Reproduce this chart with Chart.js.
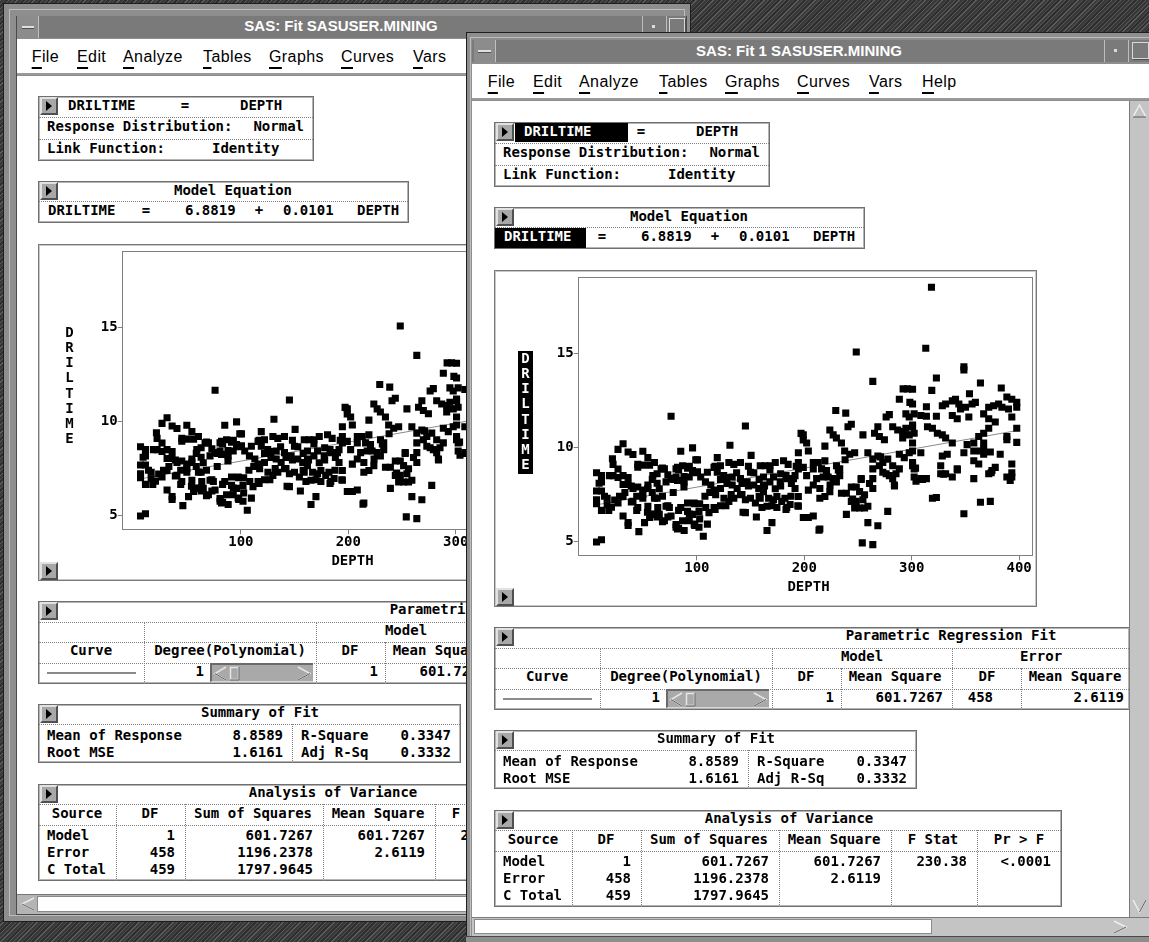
<!DOCTYPE html>
<html><head><meta charset="utf-8">
<script src="https://cdn.jsdelivr.net/npm/chart.js"></script>
<style>
html,body{margin:0;padding:0;}
body{width:1149px;height:942px;position:relative;overflow:hidden;background:#3f3f3f;
 background-image:repeating-linear-gradient(135deg,#5c5c5c 0 1px,#383838 1px 3px,#4b4b4b 3px 4px,#2f2f2f 4px 6px);}
.a{position:absolute;box-sizing:border-box;}
.t{position:absolute;height:20px;line-height:20px;white-space:pre;font:bold 14px 'DejaVu Sans Mono',monospace;color:#000;}
.menu{position:absolute;font:16px 'Liberation Sans',Arial,sans-serif;letter-spacing:0.4px;height:20px;line-height:20px;white-space:pre;color:#000;}
.menu u{text-decoration:underline;text-underline-offset:5px;text-decoration-thickness:1.5px;}
.title{position:absolute;font:bold 15px 'Liberation Sans',Arial,sans-serif;color:#fff;height:20px;line-height:20px;white-space:pre;text-align:center;}
</style></head><body>
<script>
// ---------------- data ----------------
const depthTicks = [100, 200, 300, 400];
const timeTicks = [5, 10, 15];

const depthShallow = [
 6.6, 11.2, 6.6, 11.2, 11.2, 6.6, 11.2, 6.6, 16.5, 6.6,
 11.2, 20.5, 16.5, 21.4, 22, 22, 26.6, 26.6, 31.3, 26.6,
 36, 40.5, 45, 45, 31.3, 36, 31.3, 36, 40.5, 26.6,
 31.3, 31.3, 36, 36, 40.5, 45, 46, 49.7, 54.4, 56,
 49.7, 45, 49.7, 54.4, 49.7, 54.4, 49.7, 51.3, 56, 54.4,
 60.5, 59, 63, 60.5, 63.6, 60.5, 65, 69.8, 71.3, 66.7,
 69.8, 71.3, 76, 76, 80.6, 80.6, 76, 80.6, 80.6, 74.4,
 58.5, 58.5, 63, 63, 68, 73, 73, 73, 78, 83,
 65, 68];
const timeShallow = [
 4.97, 5.09, 8.65, 8.5, 8.17, 7.68, 7.68, 7.22, 7.3, 7.0,
 6.65, 6.82, 6.95, 9.4, 9.1, 8.5, 8.4, 8.85, 10.2, 9.9,
 9.76, 9.63, 9.1, 8.95, 8.5, 8.4, 8.03, 8.03, 7.82, 7.04,
 7.39, 6.35, 6.0, 5.85, 7.13, 6.8, 5.52, 9.8, 9.46, 9.06,
 9.06, 7.9, 7.74, 7.82, 7.3, 8.0, 7.5, 6.0, 6.27, 6.87,
 9.2, 8.5, 8.6, 7.3, 6.8, 6.44, 6.44, 6.1, 6.87, 8.86,
 8.86, 8.17, 11.66, 8.34, 8.86, 8.43, 6.35, 5.75, 5.9, 6.8,
 8.3, 7.6, 8.1, 7.3, 6.05, 8.55, 6.9, 6.3, 7.6, 6.65,
 7.8, 7.4];

const depthMid = [
 145.2, 85, 96, 100.6, 119, 130.8, 150.5, 82, 86.7, 91.3,
 96, 100.6, 103.6, 116, 122, 129.8, 134.4, 140.6, 125, 132.9,
 140.6, 149.9, 159, 163.7, 168, 173, 180.7, 185, 82, 88.2,
 92.9, 108, 113, 116, 117.5, 122, 128, 132.9, 137.5, 142,
 146.8, 153, 157.6, 162, 162, 168, 171.4, 177.6, 183.7, 188,
 191.4, 125.2, 129.8, 134.4, 140.6, 145.2, 149.9, 154.5, 159, 162,
 166.8, 171.4, 174.5, 179, 182, 186.8, 160.6, 165.3, 174.5, 183.7,
 91.3, 97.5, 91.3, 96, 102, 108.3, 111.3, 116, 85, 86.7,
 92.9, 97.5, 102, 109.8, 82, 88.2, 106, 145.2, 155.4, 169.9,
 165.3, 119, 109.8];
const timeMid = [
 11.14, 9.8, 9.98, 9.34, 9.46, 10.12, 9.58, 8.94, 9.03, 8.89,
 8.77, 8.7, 8.43, 8.94, 9.03, 9.2, 9.1, 9.2, 8.5, 8.43,
 8.34, 8.68, 9.03, 9.03, 9.03, 9.2, 9.29, 9.1, 8.25, 8.17,
 8.43, 8.17, 8.0, 7.73, 7.48, 7.82, 8.08, 8.0, 7.82, 8.08,
 8.17, 8.0, 7.82, 8.0, 8.43, 8.17, 8.43, 8.17, 8.34, 8.08,
 8.5, 7.3, 7.13, 7.3, 7.48, 7.22, 7.3, 7.04, 7.3, 7.65,
 7.3, 7.22, 7.39, 7.13, 7.3, 6.96, 6.8, 6.87, 6.8, 6.8,
 7.04, 7.04, 6.6, 6.44, 6.6, 6.8, 6.53, 6.8, 6.8, 6.1,
 6.1, 5.92, 5.75, 5.92, 5.66, 5.58, 5.27, 6.53, 6.3, 6.0,
 5.58, 8.68, 8.68];

const depthDeep = [
 248.4, 263.8, 296.2, 292, 288.5, 298.3, 229.3, 238.6, 276.2, 279.2,
 294.6, 297.7, 243.8, 240.7, 223.8, 226.9, 229.9, 254.6, 265.4, 268.5,
 269.9, 274.6, 282.3, 287, 291.6, 294.6, 300.8, 291.6, 297.7, 199.1,
 202.2, 203.8, 219.2, 234.6, 237.6, 242.3, 246.9, 259.2, 263.8, 268.5,
 273.1, 277.7, 282.3, 288.5, 293.1, 297.7, 300.8, 194.5, 194.5, 194.5,
 208.4, 213, 219.2, 199.1, 208.4, 216.1, 220.7, 230, 233, 202.2,
 211.5, 217.6, 222.2, 226.9, 229.9, 263.8, 269.9, 273.1, 276.2, 279.2,
 282.3, 288.5, 285.4, 189.9, 191.4, 208.4, 214.5, 224, 233, 253,
 263.8, 260.7, 263.8, 283.9, 203.8, 223.8, 234.6, 239.2, 243.8, 248.4,
 251.5, 256.1, 194.5, 194.5, 214.5, 219.2, 243.8, 248.4, 254.6, 246.9,
 251.5, 256.1, 259.2, 277.7, 199.1, 203.8, 208.4, 239.2, 214.5, 259.2,
 268.5, 254, 263.8, 302.3, 302.3];
const timeDeep = [
 15.08, 13.52, 13.12, 13.12, 12.57, 12.4, 11.97, 11.83, 11.62, 11.75,
 11.79, 11.62, 11.24, 11.1, 10.93, 10.67, 10.5, 10.67, 10.76, 11.1,
 10.58, 10.41, 11.1, 10.93, 10.85, 11.02, 11.19, 10.5, 10.67, 10.67,
 10.24, 9.81, 10.07, 10.24, 9.81, 9.64, 9.72, 9.72, 9.38, 9.55,
 9.2, 9.38, 9.03, 9.64, 9.46, 9.72, 9.2, 9.72, 9.2, 8.86,
 9.2, 9.2, 9.29, 8.94, 8.86, 8.86, 8.77, 9.03, 8.86, 8.5,
 8.34, 8.43, 8.43, 8.34, 8.17, 8.86, 9.03, 8.68, 8.6, 8.5,
 8.34, 8.86, 8.6, 8.34, 7.82, 8.0, 7.82, 8.0, 8.5, 8.34,
 8.34, 8.08, 7.82, 8.0, 7.73, 7.65, 7.56, 7.56, 7.9, 7.9,
 7.65, 7.48, 7.39, 6.87, 7.3, 7.39, 7.13, 7.13, 7.22, 6.78,
 6.78, 6.78, 6.87, 6.6, 6.27, 6.27, 6.35, 6.44, 5.66, 6.0,
 5.83, 4.92, 4.83, 8.86, 8.43];

const depthDeepest = [
 318.4, 313.1, 348.6, 348.6, 323, 364, 383.4, 318.7, 353.8, 300.8,
 388.6, 393.2, 397.8, 397.8, 340.8, 337.8, 343.9, 331.6, 328.5, 345.5,
 350.1, 356.2, 359.3, 371.7, 376.3, 380.9, 384, 313.7, 300.8, 302.3,
 308.5, 313.7, 323, 337.8, 342.4, 353.2, 367, 371.7, 377.8, 390.1,
 393.2, 314.7, 319.3, 323.9, 328.5, 331.6, 300.8, 302.3, 337.8, 351.6,
 357.8, 362.4, 367, 371.7, 388.6, 388.6, 397.8, 397.8, 367, 367,
 308.5, 328.5, 327, 333.1, 348.6, 357.8, 364, 367, 373.2, 382.4,
 393.2, 393.2, 393.2, 357.8, 362.4, 300.8, 300.8, 300.8, 304, 308.5,
 313.7, 327, 331.6, 337.8, 342.4, 357.8, 371.7, 374.7, 377.8, 388.6,
 391.7, 319.3, 323, 364, 373.2, 348.6];
const timeDeepest = [
 18.53, 15.28, 14.3, 14.13, 13.7, 13.43, 13.17, 13.04, 12.86, 13.1,
 12.69, 12.57, 12.4, 12.14, 12.57, 12.48, 12.31, 12.31, 12.22, 12.05,
 12.14, 12.31, 12.4, 12.14, 12.22, 12.31, 12.14, 12.17, 12.31, 11.79,
 11.7, 11.66, 11.66, 11.7, 11.53, 11.62, 11.79, 11.53, 11.36, 12.05,
 11.62, 11.1, 11.02, 10.76, 10.67, 10.5, 11.1, 10.76, 10.24, 10.15,
 10.24, 10.58, 10.76, 11.02, 10.58, 10.41, 11.02, 10.27, 10.24, 9.9,
 9.72, 9.55, 9.03, 9.64, 9.72, 9.81, 9.81, 9.64, 9.76, 9.64,
 9.12, 8.65, 8.43, 9.29, 9.12, 10.24, 9.81, 9.03, 8.2, 8.34,
 8.34, 8.6, 8.6, 8.43, 8.86, 8.34, 8.6, 8.77, 8.94, 8.43,
 8.25, 7.3, 7.34, 7.08, 7.13, 6.47];

// further points read from the whole-plot view (overlapping clusters)
const depthCluster = [
 9, 14, 18, 18.6, 23.5, 28, 33, 39, 39, 44,
 44, 54, 58.5, 63, 68, 78, 83, 83, 88, 88,
 93, 93, 98, 98, 98, 99, 102.6, 102.6, 107.5, 112,
 117, 117, 122, 122, 127, 127, 132, 137, 142, 143,
 148, 148, 153, 158, 158, 163, 168, 170, 173, 178,
 178, 183, 183, 187.6, 192.5, 194, 197, 199, 213.7, 231.7,
 238, 245, 253, 271, 284, 303.6, 310, 329.7, 342.5, 374];
const timeCluster = [
 8.1, 7.4, 6.65, 8.5, 7.2, 7.4, 7.6, 7.95, 7.1, 7.4,
 6.65, 6.55, 6.45, 6.3, 8.9, 8.3, 8.8, 5.7, 8.45, 7.9,
 9.0, 6.45, 8.65, 7.0, 5.85, 9.35, 7.0, 6.2, 7.4, 7.6,
 9.0, 6.7, 8.3, 6.9, 8.4, 6.9, 7.5, 8.65, 7.5, 6.55,
 9.0, 7.95, 8.65, 8.3, 7.4, 7.95, 8.8, 6.9, 7.8, 8.6,
 7.95, 8.5, 6.7, 7.4, 9.0, 6.9, 10.75, 10.4, 5.6, 8.8,
 9.35, 7.25, 8.3, 9.5, 7.95, 8.9, 8.3, 8.57, 8.8, 8.65];

// fitted line DRILTIME = 6.8819 + 0.0101 DEPTH, end points
const fitDepth = [4, 400];
const fitTime = [6.92, 10.92];

// ---------------- helpers ----------------
const B = document.body;
function el(parent, x, y, w, h, css) {
  const d = document.createElement('div'); d.className = 'a';
  Object.assign(d.style, {left: x + 'px', top: y + 'px', width: w + 'px', height: h + 'px'}, css || {});
  parent.appendChild(d); return d;
}
function svgIn(d, w, h, inner) {
  d.insertAdjacentHTML('beforeend', '<svg width="' + w + '" height="' + h + '" style="position:absolute;left:0;top:0">' + inner + '</svg>');
}
function menuBar(y, xs, items) {
  items.forEach((s, i) => {
    const m = document.createElement('div'); m.className = 'menu';
    m.innerHTML = '<u>' + s[0] + '</u>' + s.slice(1);
    m.style.left = xs[i] + 'px'; m.style.top = (y - 10) + 'px';
    B.appendChild(m);
  });
}
function titleText(s, cx, cy) {
  const t = document.createElement('div'); t.className = 'title'; t.textContent = s;
  t.style.left = (cx - 200) + 'px'; t.style.width = '400px'; t.style.top = (cy - 10) + 'px';
  B.appendChild(t);
}

const allDepth = depthShallow.concat(depthMid, depthDeep, depthDeepest, depthCluster);
const allTime = timeShallow.concat(timeMid, timeDeep, timeDeepest, timeCluster);

const boxPlugin = {id: 'box', afterDraw(c) {
  const {ctx, chartArea: a} = c; ctx.save(); ctx.strokeStyle = '#808080'; ctx.lineWidth = 1;
  ctx.strokeRect(Math.round(a.left) - 0.5, Math.round(a.top) - 0.5, Math.round(a.right - a.left) + 1, Math.round(a.bottom - a.top) + 1);
  ctx.restore();
}};
const tickFont = {family: 'DejaVu Sans Mono', size: 14, weight: 'bold'};

function makeChart(cv) {
  new Chart(cv, {
    type: 'scatter',
    data: {datasets: [
      {data: allDepth.map((x, i) => ({x: x, y: allTime[i]})), pointStyle: 'rect', pointRadius: 5.0,
       pointBackgroundColor: '#000', pointBorderWidth: 0, pointHoverRadius: 5.0, showLine: false},
      {data: fitDepth.map((x, i) => ({x: x, y: fitTime[i]})), showLine: true, borderColor: '#8a8a8a',
       borderWidth: 1, pointRadius: 0, pointHoverRadius: 0}
    ]},
    options: {
      responsive: false, animation: false, devicePixelRatio: 1, events: [],
      layout: {padding: {top: 2.7, right: 2, left: 0, bottom: 0}},
      plugins: {legend: {display: false}, tooltip: {enabled: false}},
      scales: {
        x: {type: 'linear', min: -10, max: 412,
            afterBuildTicks: s => { s.ticks = depthTicks.map(v => ({value: v})); },
            afterFit: s => { s.height = 51.7; },
            grid: {drawOnChartArea: false, drawTicks: true, tickLength: 5, color: '#808080'},
            border: {display: false},
            ticks: {color: '#000', font: tickFont, padding: 0, maxRotation: 0, autoSkip: false}},
        y: {type: 'linear', min: 4.26, max: 19.0,
            afterBuildTicks: s => { s.ticks = timeTicks.map(v => ({value: v})); },
            afterFit: s => { s.width = 84.7; },
            grid: {drawOnChartArea: false, drawTicks: true, tickLength: 5, color: '#808080'},
            border: {display: false},
            ticks: {color: '#000', font: tickFont, padding: 0, autoSkip: false}}
      }
    },
    plugins: [boxPlugin]
  });
}

// Build window content. Coordinates are those of the left window; dx,dy shift them.
function buildContent(C, cx, cy, dx, dy, hl) {
  const P = (x, y) => [x + dx - cx, y + dy - cy];
  const rect = (x1, y1, x2, y2, css) => { const p = P(x1, y1); return el(C, p[0], p[1], x2 - x1, y2 - y1, css); };
  const txt = (s, x, y, al, color) => {
    const p = P(x, y); const d = document.createElement('div'); d.className = 't'; d.textContent = s;
    let L = p[0];
    if (al === 'r') { L = p[0] - 400; d.style.width = '400px'; d.style.textAlign = 'right'; }
    else if (al === 'c') { L = p[0] - 200; d.style.width = '400px'; d.style.textAlign = 'center'; }
    d.style.left = L + 'px'; d.style.top = (p[1] - 10) + 'px'; if (color) d.style.color = color;
    C.appendChild(d); return d;
  };
  const hdot = (x1, x2, y) => rect(x1, y, x2, y + 1, {borderTop: '1px dotted #808080'});
  const vdot = (x, y1, y2) => rect(x, y1, x + 1, y2, {borderLeft: '1px dotted #808080'});
  const frame = (x1, y1, x2, y2) => rect(x1, y1, x2, y2, {border: '1px solid #6f6f6f', boxShadow: 'inset 0 0 0 1px #b4b4b4'});
  const btn = (x, y) => {
    const b = rect(x, y, x + 18, y + 18, {background: '#a8a8a8', borderTop: '2px solid #e2e2e2', borderLeft: '2px solid #e2e2e2', borderRight: '2px solid #505050', borderBottom: '2px solid #505050'});
    svgIn(b, 14, 14, '<path d="M4 2 L10 7 L4 12 Z" fill="#000"/>');
  };

  // model box
  frame(38, 96, 314, 161);
  hdot(39, 313, 117); hdot(39, 313, 139);
  if (hl) { rect(59, 97, 172, 116, {background: '#000'}); txt('DRILTIME', 68, 107, 'l', '#fff'); }
  else txt('DRILTIME', 68, 107, 'l');
  btn(40, 97);
  txt('=', 185, 107, 'c'); txt('DEPTH', 240, 107, 'l');
  txt('Response Distribution:', 47, 128, 'l'); txt('Normal', 304, 128, 'r');
  txt('Link Function:', 47, 150, 'l'); txt('Identity', 212, 150, 'l');

  // model equation
  frame(38, 181, 409, 223);
  hdot(39, 408, 201);
  btn(40, 182);
  txt('Model Equation', 233, 192, 'c');
  if (hl) { rect(39, 202, 130, 222, {background: '#000'}); txt('DRILTIME', 48, 212, 'l', '#fff'); }
  else txt('DRILTIME', 48, 212, 'l');
  txt('=', 146, 212, 'c'); txt('6.8819', 185, 212, 'l'); txt('+', 259, 212, 'c');
  txt('0.0101', 283, 212, 'l'); txt('DEPTH', 357, 212, 'l');

  // plot
  rect(38, 244, 581, 581, {border: '1px solid #7a7a7a', boxShadow: 'inset 0 0 0 1px #c8c8c8'});
  const p = P(38, 244);
  const cv = document.createElement('canvas'); cv.width = 543; cv.height = 337;
  Object.assign(cv.style, {position: 'absolute', left: p[0] + 'px', top: p[1] + 'px', width: '543px', height: '337px'});
  C.appendChild(cv);
  makeChart(cv);
  if (hl) rect(62, 325, 77, 448, {background: '#000'});
  'DRILTIME'.split('').forEach((ch, k) => txt(ch, 69.5, 334 + k * 15.14, 'c', hl ? '#fff' : '#000'));
  txt('DEPTH', 352.5, 562, 'c');
  btn(40, 562);

  // parametric regression fit
  frame(38, 601, 674, 684);
  hdot(39, 673, 622); hdot(39, 673, 642); hdot(39, 673, 663);
  vdot(144, 622, 684); vdot(316, 622, 684); vdot(496, 622, 684);
  vdot(385, 642, 684); vdot(565, 642, 684);
  btn(40, 602);
  txt('Parametric Regression Fit', 495, 611, 'c');
  txt('Model', 406, 632, 'c'); txt('Error', 585, 632, 'c');
  txt('Curve', 91, 652, 'c'); txt('Degree(Polynomial)', 230, 652, 'c'); txt('DF', 350, 652, 'c');
  txt('Mean Square', 439, 652, 'c'); txt('DF', 531, 652, 'c'); txt('Mean Square', 619, 652, 'c');
  rect(47, 672, 136, 674, {background: '#8a8a8a'});
  txt('1', 204, 673, 'r');
  const sl = rect(210, 663, 313, 682, {background: '#a9a9a9', borderTop: '2px solid #6a6a6a', borderLeft: '2px solid #6a6a6a', borderBottom: '1px solid #d8d8d8'});
  svgIn(sl, 101, 17, '<path d="M14 2 L3 8.5 L14 15" fill="none" stroke="#e6e6e6" stroke-width="1.5"/><path d="M3 8.5 L14 15" stroke="#5a5a5a" stroke-width="1"/>' +
    '<rect x="18.5" y="2.5" width="8" height="12" fill="none" stroke="#e6e6e6" stroke-width="1.5"/><path d="M27 2 V15 H18" fill="none" stroke="#5a5a5a"/>' +
    '<path d="M86 2 L98 8.5 L86 15" fill="none" stroke="#e6e6e6" stroke-width="1.5"/><path d="M98 8.5 L86 15" stroke="#5a5a5a"/>');
  txt('1', 378, 673, 'r'); txt('601.7267', 487, 673, 'r'); txt('458', 537, 673, 'r'); txt('2.6119', 668, 673, 'r');

  // summary of fit
  frame(38, 704, 461, 763);
  hdot(39, 460, 724); vdot(292, 724, 763);
  btn(40, 705);
  txt('Summary of Fit', 260, 714, 'c');
  txt('Mean of Response', 47, 737); txt('8.8589', 283, 737, 'r'); txt('R-Square', 301, 737); txt('0.3347', 451, 737, 'r');
  txt('Root MSE', 47, 754); txt('1.6161', 283, 754, 'r'); txt('Adj R-Sq', 301, 754); txt('0.3332', 451, 754, 'r');

  // analysis of variance
  frame(38, 784, 606, 881);
  hdot(39, 605, 804); hdot(39, 605, 825);
  [116, 185, 323, 435, 521].forEach(x => vdot(x, 804, 881));
  btn(40, 785);
  txt('Analysis of Variance', 333, 794, 'c');
  txt('Source', 77, 815, 'c'); txt('DF', 150, 815, 'c'); txt('Sum of Squares', 253, 815, 'c');
  txt('Mean Square', 378, 815, 'c'); txt('F Stat', 477, 815, 'c'); txt('Pr > F', 563, 815, 'c');
  txt('Model', 47, 837); txt('1', 175, 837, 'r'); txt('601.7267', 313, 837, 'r'); txt('601.7267', 425, 837, 'r');
  txt('230.38', 511, 837, 'r'); txt('<.0001', 595, 837, 'r');
  txt('Error', 47, 854); txt('458', 175, 854, 'r'); txt('1196.2378', 313, 854, 'r'); txt('2.6119', 425, 854, 'r');
  txt('C Total', 47, 871); txt('459', 175, 871, 'r'); txt('1797.9645', 313, 871, 'r');
}

const menuItems = ['File', 'Edit', 'Analyze', 'Tables', 'Graphs', 'Curves', 'Vars', 'Help'];
const menuX = [31.7, 77, 123, 203, 269, 341, 413, 466];

// ---------------- left window ----------------
el(B, 3, 3, 688, 919, {background: '#8e8e8e', border: '1px solid #1e1e1e'});
el(B, 9, 9, 676, 907, {border: '1px solid #bdbdbd'});
el(B, 16, 16, 671, 899, {border: '1px solid #4a4a4a'});
el(B, 17, 16, 669, 22, {background: '#7a7a7a'});
const sb1 = el(B, 17, 16, 22, 22, {background: '#8c8c8c', borderRight: '1px solid #c0c0c0'});
el(sb1, 5, 10, 12, 3, {background: '#e0e0e0', borderBottom: '1px solid #505050'});
el(B, 642, 16, 1, 22, {background: '#bdbdbd'});
el(B, 652, 25, 3, 3, {background: '#dcdcdc'});
el(B, 666, 16, 1, 22, {background: '#bdbdbd'});
el(B, 669, 18, 16, 16, {border: '1px solid #d8d8d8', boxShadow: '1px 1px 0 #505050'});
titleText('SAS: Fit SASUSER.MINING', 341, 26);
el(B, 17, 39, 669, 36, {background: '#fff', borderBottom: '2px solid #9a9a9a'});
menuBar(56.5, menuX, menuItems);
const C1 = el(B, 17, 76, 669, 818, {background: '#fff', overflow: 'hidden'});
buildContent(C1, 17, 76, 0, 0, false);
el(B, 17, 894, 669, 20, {background: '#b4b4b4', borderTop: '1px solid #777'});
el(B, 37, 896, 640, 16, {background: '#fff', border: '1px solid #8a8a8a'});
const la = el(B, 20, 896, 16, 16, {});
svgIn(la, 16, 16, '<path d="M14 2 L2 8 L14 14" fill="none" stroke="#e8e8e8" stroke-width="1.5"/><path d="M2 8 L14 14" stroke="#606060"/>');

// ---------------- right window ----------------
el(B, 466, 32, 700, 930, {background: '#8e8e8e', border: '1px solid #1e1e1e'});
el(B, 470, 37, 690, 920, {border: '1px solid #bdbdbd'});
el(B, 472, 40, 690, 22, {background: '#7a7a7a'});
const sb2 = el(B, 474, 40, 22, 22, {background: '#8c8c8c', borderRight: '1px solid #c0c0c0'});
el(sb2, 4, 10, 13, 3, {background: '#e0e0e0', borderBottom: '1px solid #505050'});
el(B, 1104, 40, 1, 22, {background: '#bdbdbd'});
el(B, 1114, 49, 3, 3, {background: '#dcdcdc'});
el(B, 1128, 40, 1, 22, {background: '#bdbdbd'});
el(B, 1132, 42, 17, 17, {border: '1px solid #d8d8d8', boxShadow: '1px 1px 0 #505050'});
titleText('SAS: Fit 1 SASUSER.MINING', 799, 51);
el(B, 472, 64, 690, 36, {background: '#fff', borderBottom: '2px solid #9a9a9a'});
menuBar(82, menuX.map(x => x + 456), menuItems);
const C2 = el(B, 472, 101, 657, 816, {background: '#fff', overflow: 'hidden'});
buildContent(C2, 472, 101, 456, 26, true);
// vertical scrollbar
el(B, 1129, 101, 20, 816, {background: '#c4c4c4', borderLeft: '1px solid #7a7a7a'});
const ua = el(B, 1131, 103, 17, 16, {});
svgIn(ua, 17, 16, '<path d="M2 14 L8.5 2 L15 14" fill="none" stroke="#eeeeee" stroke-width="1.5"/><path d="M15 14 H2" stroke="#5a5a5a"/>');
const da = el(B, 1131, 898, 17, 16, {});
svgIn(da, 17, 16, '<path d="M2 2 L8.5 14 L15 2" fill="none" stroke="#eeeeee" stroke-width="1.5"/><path d="M8.5 14 L15 2" stroke="#5a5a5a"/>');
// horizontal scrollbar
el(B, 472, 917, 677, 19, {background: '#c4c4c4', borderTop: '1px solid #7a7a7a'});
el(B, 474, 919, 458, 15, {background: '#fff', border: '1px solid #8a8a8a'});
const ra = el(B, 1112, 919, 16, 16, {});
svgIn(ra, 16, 16, '<path d="M2 2 L14 8 L2 14" fill="none" stroke="#eeeeee" stroke-width="1.5"/><path d="M14 8 L2 14" stroke="#5a5a5a"/>');
el(B, 466, 936, 700, 6, {background: '#8e8e8e', borderTop: '1px solid #4a4a4a'});
</script>
</body></html>
